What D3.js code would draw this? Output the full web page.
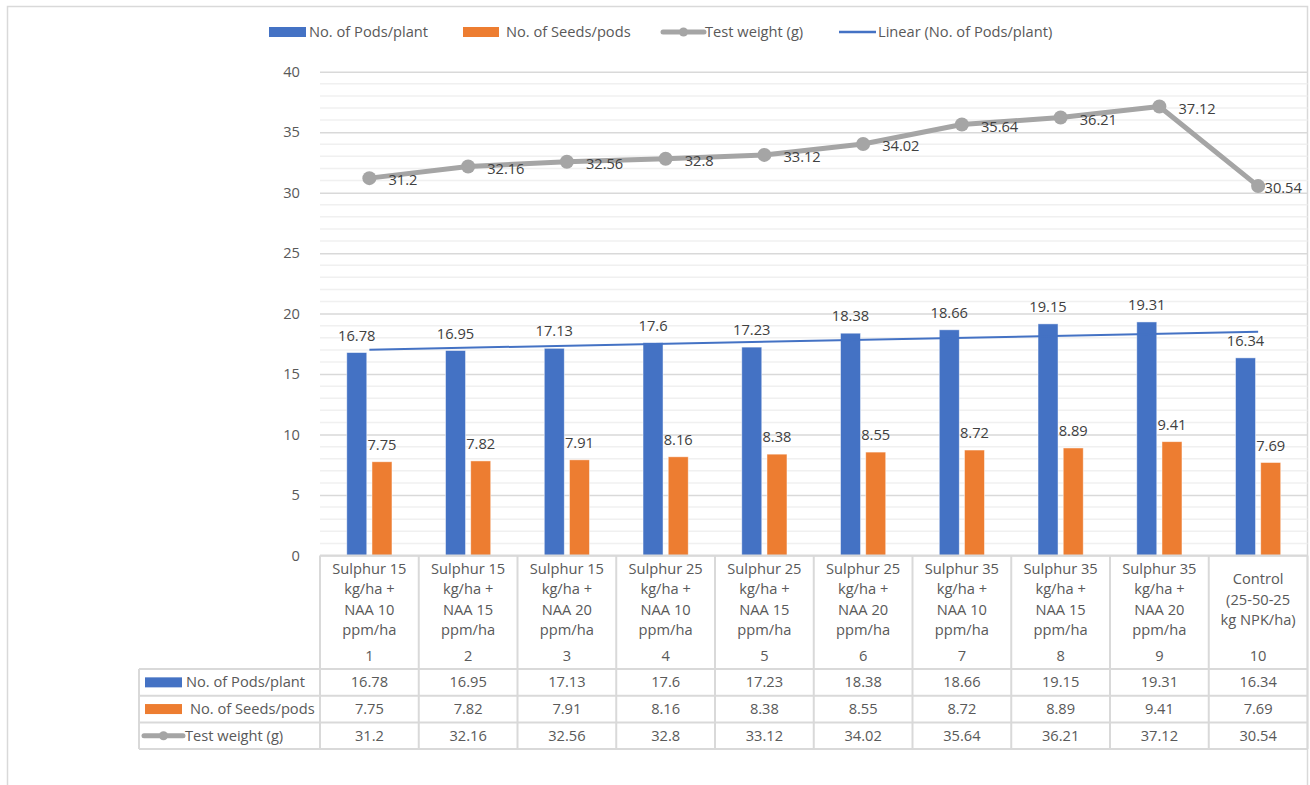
<!DOCTYPE html>
<html>
<head>
<meta charset="utf-8">
<script src="https://cdn.jsdelivr.net/npm/d3@7"></script>
<style>
  html, body { margin: 0; padding: 0; background: #fff; }
  svg { display: block; font-family: "Open Sans", "Noto Sans", sans-serif; }
</style>
</head>
<body>
<svg id="chart" width="1310" height="785"></svg>
<script>
// Treatment labels (wrapped lines) and treatment numbers
const categoryLines = [
  ["Sulphur 15", "kg/ha +", "NAA 10", "ppm/ha"],
  ["Sulphur 15", "kg/ha +", "NAA 15", "ppm/ha"],
  ["Sulphur 15", "kg/ha +", "NAA 20", "ppm/ha"],
  ["Sulphur 25", "kg/ha +", "NAA 10", "ppm/ha"],
  ["Sulphur 25", "kg/ha +", "NAA 15", "ppm/ha"],
  ["Sulphur 25", "kg/ha +", "NAA 20", "ppm/ha"],
  ["Sulphur 35", "kg/ha +", "NAA 10", "ppm/ha"],
  ["Sulphur 35", "kg/ha +", "NAA 15", "ppm/ha"],
  ["Sulphur 35", "kg/ha +", "NAA 20", "ppm/ha"],
  ["Control", "(25-50-25", "kg NPK/ha)"]
];
const treatmentNo = ["1", "2", "3", "4", "5", "6", "7", "8", "9", "10"];

// Series values
const podsPerPlant = [16.78, 16.95, 17.13, 17.6, 17.23, 18.38, 18.66, 19.15, 19.31, 16.34];
const seedsPerPod  = [7.75, 7.82, 7.91, 8.16, 8.38, 8.55, 8.72, 8.89, 9.41, 7.69];
const testWeight   = [31.2, 32.16, 32.56, 32.8, 33.12, 34.02, 35.64, 36.21, 37.12, 30.54];

const seriesNames = ["No. of Pods/plant", "No. of Seeds/pods", "Test weight (g)", "Linear (No. of Pods/plant)"];
const yTicks = [0, 5, 10, 15, 20, 25, 30, 35, 40];

const BLUE = "#4472C4", ORANGE = "#ED7D31", GRAY = "#A5A5A5";
const TEXT = "#595959", LABEL = "#404040";
const GRID = "#D9D9D9", MINOR = "#F0F0F0";
const FS = 14.67;

const svg = d3.select("#chart");

// outer chart frame
svg.append("path")
  .attr("d", "M7.5,795 V6.5 H1307.5 V795")
  .attr("fill", "none").attr("stroke", GRID).attr("stroke-width", 1.5);

const plot = { left: 320, right: 1307.5, top: 71.7, bottom: 555.5 };
const idx = d3.range(categoryLines.length);

const x = d3.scaleBand().domain(idx).range([plot.left, plot.right]).paddingInner(0).paddingOuter(0);
const y = d3.scaleLinear().domain([0, 40]).range([plot.bottom, plot.top]);
const cx = i => x(i) + x.bandwidth() / 2;

// minor gridlines every unit
const minor = d3.range(0, 41).filter(v => v % 5 !== 0);
svg.append("g").selectAll("line").data(minor).join("line")
  .attr("x1", plot.left).attr("x2", plot.right)
  .attr("y1", d => y(d)).attr("y2", d => y(d))
  .attr("stroke", MINOR).attr("stroke-width", 1.5);

// major gridlines + tick labels via d3 axis
const yAxis = d3.axisLeft(y).tickValues(yTicks).tickSize(-(plot.right - plot.left)).tickPadding(20);
const gy = svg.append("g").attr("transform", `translate(${plot.left},0)`).call(yAxis);
gy.select(".domain").remove();
gy.selectAll(".tick line").attr("stroke", GRID).attr("stroke-width", 1.5);
gy.selectAll(".tick text").attr("fill", TEXT).attr("font-size", FS)
  .attr("font-family", "Open Sans, Noto Sans, sans-serif");

// bars
const barW = 20, barOff = 12.6;
svg.append("g").selectAll("rect").data(podsPerPlant).join("rect")
  .attr("x", (d, i) => cx(i) - barOff - barW / 2).attr("width", barW)
  .attr("y", d => y(d)).attr("height", d => y(0) - y(d))
  .attr("fill", BLUE).attr("stroke", "#fff").attr("stroke-opacity", 0.6).attr("stroke-width", 0.8);
svg.append("g").selectAll("rect").data(seedsPerPod).join("rect")
  .attr("x", (d, i) => cx(i) + barOff - barW / 2).attr("width", barW)
  .attr("y", d => y(d)).attr("height", d => y(0) - y(d))
  .attr("fill", ORANGE).attr("stroke", "#fff").attr("stroke-opacity", 0.6).attr("stroke-width", 0.8);

// linear trend for pods/plant (least squares over treatment order 1..n)
const n = podsPerPlant.length;
const xs = idx.map(i => i + 1);
const mx = d3.mean(xs), my = d3.mean(podsPerPlant);
const slope = d3.sum(xs, (v, i) => (v - mx) * (podsPerPlant[i] - my)) / d3.sum(xs, v => (v - mx) ** 2);
const icpt = my - slope * mx;
svg.append("line")
  .attr("x1", cx(0)).attr("y1", y(icpt + slope * 1))
  .attr("x2", cx(n - 1)).attr("y2", y(icpt + slope * n))
  .attr("stroke", BLUE).attr("stroke-width", 2);

// bar value labels
svg.append("g").selectAll("text").data(podsPerPlant).join("text")
  .attr("x", (d, i) => cx(i) - barOff).attr("y", d => y(d) - 17)
  .attr("text-anchor", "middle").attr("dy", "0.35em")
  .attr("fill", LABEL).attr("font-size", FS).text(d => d);
svg.append("g").selectAll("text").data(seedsPerPod).join("text")
  .attr("x", (d, i) => cx(i) + barOff).attr("y", d => y(d) - 17)
  .attr("text-anchor", "middle").attr("dy", "0.35em")
  .attr("fill", LABEL).attr("font-size", FS).text(d => d);

// test weight line with markers
const line = d3.line().x((d, i) => cx(i)).y(d => y(d));
svg.append("path").datum(testWeight).attr("d", line)
  .attr("fill", "none").attr("stroke", GRAY).attr("stroke-width", 5).attr("stroke-linejoin", "round");
svg.append("g").selectAll("circle").data(testWeight).join("circle")
  .attr("cx", (d, i) => cx(i)).attr("cy", d => y(d)).attr("r", 7).attr("fill", GRAY);
const twLabels = svg.append("g").selectAll("text").data(testWeight).join("text")
  .attr("x", (d, i) => cx(i) + 19).attr("y", d => y(d) + 2)
  .attr("dy", "0.35em").attr("fill", LABEL).attr("font-size", FS).text(d => d);
// keep labels inside the plot area
twLabels.each(function () {
  const bb = this.getBBox();
  const limit = plot.right - 5;
  if (bb.x + bb.width > limit) d3.select(this).attr("x", limit - bb.width);
});

// legend
const leg = svg.append("g");
leg.append("rect").attr("x", 269).attr("y", 27).attr("width", 37).attr("height", 10).attr("fill", BLUE);
leg.append("text").attr("x", 309).attr("y", 32).attr("dy", "0.35em").attr("fill", TEXT).attr("font-size", FS).text(seriesNames[0]);
leg.append("rect").attr("x", 463).attr("y", 27).attr("width", 36).attr("height", 10).attr("fill", ORANGE);
leg.append("text").attr("x", 506).attr("y", 32).attr("dy", "0.35em").attr("fill", TEXT).attr("font-size", FS).text(seriesNames[1]);
leg.append("line").attr("x1", 663).attr("x2", 704).attr("y1", 32).attr("y2", 32)
  .attr("stroke", GRAY).attr("stroke-width", 5).attr("stroke-linecap", "round");
leg.append("circle").attr("cx", 683.5).attr("cy", 32).attr("r", 4.5).attr("fill", GRAY);
leg.append("text").attr("x", 705).attr("y", 32).attr("dy", "0.35em").attr("fill", TEXT).attr("font-size", FS).text(seriesNames[2]);
leg.append("line").attr("x1", 839).attr("x2", 876).attr("y1", 32).attr("y2", 32)
  .attr("stroke", BLUE).attr("stroke-width", 2.5);
leg.append("text").attr("x", 878).attr("y", 32).attr("dy", "0.35em").attr("fill", TEXT).attr("font-size", FS).text(seriesNames[3]);

// data table under the axis
const rowY = [555.5, 669, 695.7, 722.4, 749];
const tbl = svg.append("g");
const tStroke = GRID, tW = 2;
// horizontal rules
tbl.append("line").attr("x1", plot.left).attr("x2", plot.right).attr("y1", rowY[0]).attr("y2", rowY[0]).attr("stroke", tStroke).attr("stroke-width", tW);
rowY.slice(1).forEach(yy => {
  tbl.append("line").attr("x1", 139).attr("x2", plot.right).attr("y1", yy).attr("y2", yy).attr("stroke", tStroke).attr("stroke-width", tW);
});
// vertical rules
idx.concat([n]).forEach(i => {
  const xx = i < n ? x(i) : plot.right;
  tbl.append("line").attr("x1", xx).attr("x2", xx).attr("y1", rowY[0]).attr("y2", rowY[4]).attr("stroke", tStroke).attr("stroke-width", tW);
});
tbl.append("line").attr("x1", 139).attr("x2", 139).attr("y1", rowY[1]).attr("y2", rowY[4]).attr("stroke", tStroke).attr("stroke-width", tW);

// category labels
const lineH = 20.4;
const catG = tbl.append("g").selectAll("g").data(categoryLines).join("g");
catG.each(function (lines, i) {
  const g = d3.select(this);
  const mid = 599.5;
  const start = mid - (lines.length - 1) * lineH / 2;
  lines.forEach((t, k) => {
    g.append("text").attr("x", cx(i)).attr("y", start + k * lineH).attr("dy", "0.35em")
      .attr("text-anchor", "middle").attr("fill", TEXT).attr("font-size", FS).text(t);
  });
  g.append("text").attr("x", cx(i)).attr("y", 656).attr("dy", "0.35em")
    .attr("text-anchor", "middle").attr("fill", TEXT).attr("font-size", FS).text(treatmentNo[i]);
});

// table rows: values
const rows = [podsPerPlant, seedsPerPod, testWeight];
rows.forEach((vals, r) => {
  const yc = (rowY[r + 1] + rowY[r + 2]) / 2;
  tbl.append("g").selectAll("text").data(vals).join("text")
    .attr("x", (d, i) => cx(i)).attr("y", yc).attr("dy", "0.35em")
    .attr("text-anchor", "middle").attr("fill", TEXT).attr("font-size", FS).text(d => d);
});

// table row headers with legend keys
const yc0 = (rowY[1] + rowY[2]) / 2, yc1 = (rowY[2] + rowY[3]) / 2, yc2 = (rowY[3] + rowY[4]) / 2;
tbl.append("rect").attr("x", 145).attr("y", yc0 - 5).attr("width", 37).attr("height", 10).attr("fill", BLUE);
tbl.append("text").attr("x", 186).attr("y", yc0).attr("dy", "0.35em").attr("fill", TEXT).attr("font-size", FS).text(seriesNames[0]);
tbl.append("rect").attr("x", 145).attr("y", yc1 - 5).attr("width", 37).attr("height", 10).attr("fill", ORANGE);
tbl.append("text").attr("x", 190).attr("y", yc1).attr("dy", "0.35em").attr("fill", TEXT).attr("font-size", FS).text(seriesNames[1]);
tbl.append("line").attr("x1", 144).attr("x2", 183).attr("y1", yc2).attr("y2", yc2)
  .attr("stroke", GRAY).attr("stroke-width", 5).attr("stroke-linecap", "round");
tbl.append("circle").attr("cx", 163.5).attr("cy", yc2).attr("r", 4.5).attr("fill", GRAY);
tbl.append("text").attr("x", 185).attr("y", yc2).attr("dy", "0.35em").attr("fill", TEXT).attr("font-size", FS).text(seriesNames[2]);
</script>
</body>
</html>
